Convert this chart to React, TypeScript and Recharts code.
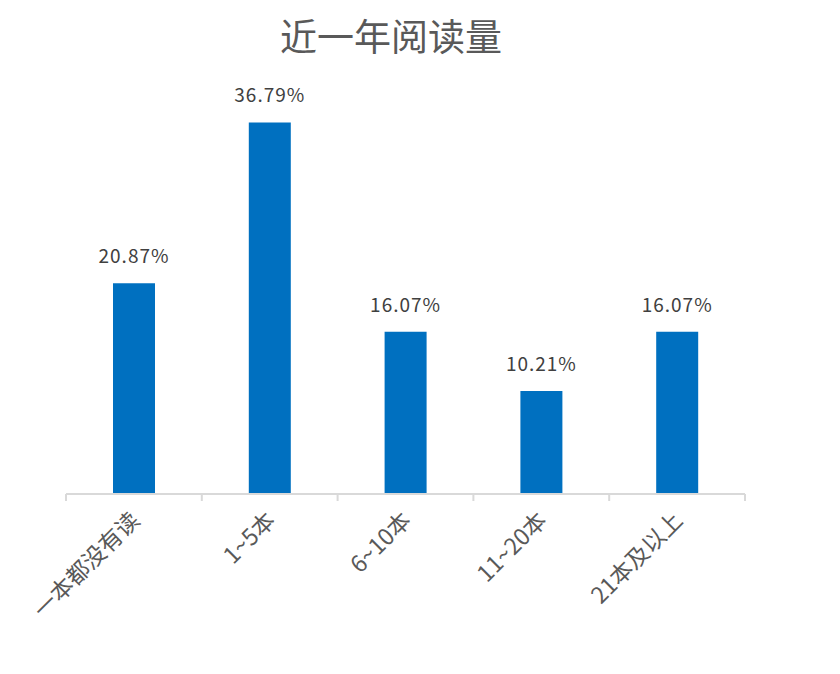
import React from 'react';
import { BarChart, Bar, XAxis, YAxis, LabelList } from 'recharts';

const categories = ['一本都没有读', '1~5本', '6~10本', '11~20本', '21本及以上'];
const values = [20.87, 36.79, 16.07, 10.21, 16.07];
const title = '近一年阅读量';

const data = categories.map((c, i) => ({ name: c, value: values[i] }));

const FONT = '"Noto Sans CJK SC", "Noto Sans", sans-serif';

const CategoryTick = (props: any) => {
  const { x, y, payload, width, visibleTicksCount, index } = props;
  const bw = width / visibleTicksCount;
  const axisY = y;
  const tx = x + 7;
  const ty = axisY + 28;
  return (
    <g>
      <line x1={x - bw / 2} y1={axisY} x2={x - bw / 2} y2={axisY + 7} stroke="#d9d9d9" strokeWidth={2} />
      {index === visibleTicksCount - 1 && (
        <line x1={x + bw / 2} y1={axisY} x2={x + bw / 2} y2={axisY + 7} stroke="#d9d9d9" strokeWidth={2} />
      )}
      <text
        x={tx}
        y={ty}
        textAnchor="end"
        fill="#595959"
        fontSize={23}
        fontFamily={FONT}
        transform={`rotate(-45, ${tx}, ${ty})`}
      >
        {payload.value}
      </text>
    </g>
  );
};

export default function App() {
  return (
    <div style={{ position: 'absolute', left: 0, top: 0, width: 840, height: 674, background: '#fff' }}>
      <div
        style={{
          position: 'absolute',
          left: 0,
          top: 17,
          width: 782,
          textAlign: 'center',
          fontFamily: FONT,
          fontSize: 37,
          lineHeight: '37px',
          color: '#595959',
        }}
      >
        {title}
      </div>
      <BarChart
        width={840}
        height={674}
        data={data}
        margin={{ top: 90, right: 95, left: 66, bottom: 0 }}
        barCategoryGap={0}
      >
        <XAxis
          dataKey="name"
          height={180}
          axisLine={{ stroke: '#d9d9d9', strokeWidth: 2 }}
          tickLine={false}
          tickSize={0}
          tickMargin={0}
          interval={0}
          tick={<CategoryTick />}
        />
        <YAxis hide domain={[0, 40]} width={0} />
        <Bar dataKey="value" fill="#0070C0" barSize={42} isAnimationActive={false}>
          <LabelList
            dataKey="value"
            position="top"
            offset={20}
            formatter={(v: any) => `${Number(v).toFixed(2)}%`}
            style={{ fill: '#404040', fontSize: 19, fontFamily: FONT, letterSpacing: 1 }}
          />
        </Bar>
      </BarChart>
    </div>
  );
}
